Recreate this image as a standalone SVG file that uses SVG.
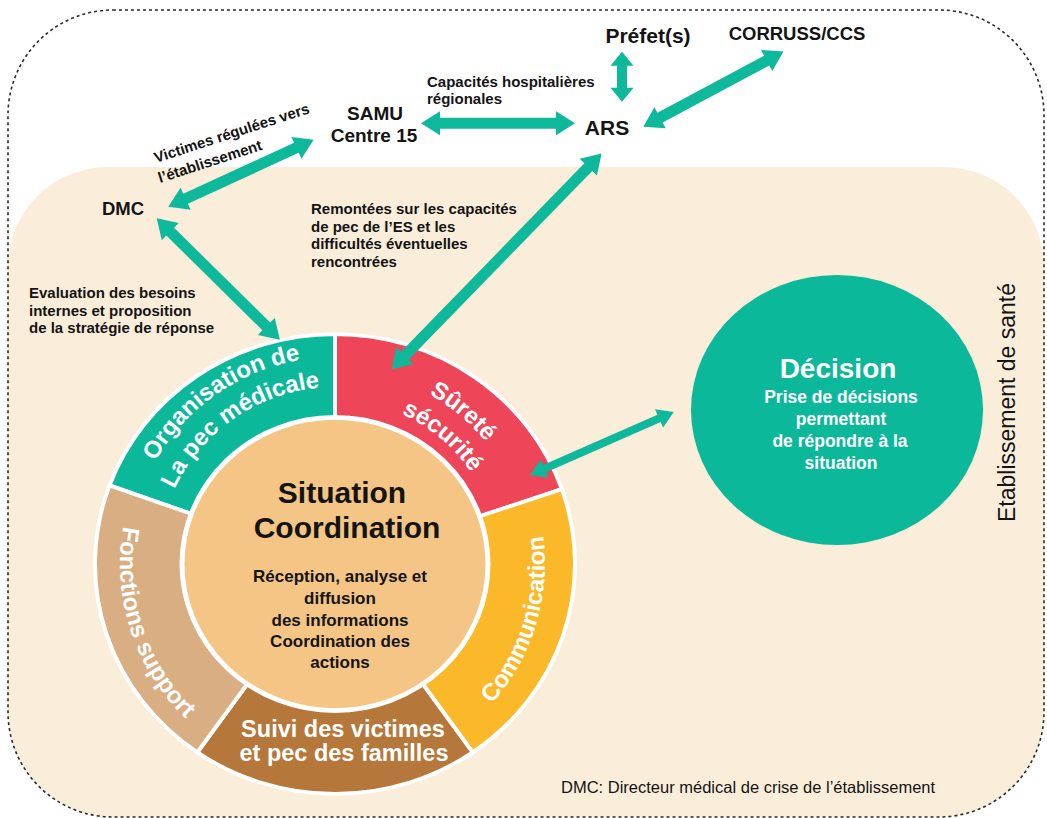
<svg xmlns="http://www.w3.org/2000/svg" width="1047" height="818" viewBox="0 0 1047 818">
<style>
.lb{font-family:"Liberation Sans",Arial,sans-serif;font-weight:bold;fill:#141414}
.rg{font-family:"Liberation Sans",Arial,sans-serif;font-weight:bold;fill:#141414}
.rt{font-family:"Liberation Sans",Arial,sans-serif;font-weight:bold;fill:#ffffff;font-size:24px}
.wt{font-family:"Liberation Sans",Arial,sans-serif;font-weight:bold;fill:#ffffff}
.arr{fill:#0DB89B}
.seg{stroke:#ffffff;stroke-width:4;stroke-linejoin:round}
</style>
<defs>
<path id="pOrg1" d="M128,564 A207,207 0 0 1 405.8,369.5"/>
<path id="pOrg2" d="M158,564 A177,177 0 0 1 395.5,397.7"/>
<path id="pSur1" d="M284.8,376.6 A194,194 0 0 1 528.3,580.9"/>
<path id="pSur2" d="M292.6,405.5 A164,164 0 0 1 498.4,578.3"/>
<path id="pCom" d="M382.2,768.6 A210,210 0 0 0 488.6,420.8"/>
<path id="pFon" d="M202.6,394.6 A215,215 0 0 0 327.5,778.9"/>
</defs>
<rect width="1047" height="818" fill="#ffffff"/>
<path d="M8,267 A100,100 0 0 1 108,167 L944,167 A100,100 0 0 1 1044,267 L1044,712 A105,105 0 0 1 939,817 L113,817 A105,105 0 0 1 8,712 Z" fill="#FAEEDB"/>
<rect x="8" y="10" width="1036" height="807" rx="105" ry="105" fill="none" stroke="#2b2b2b" stroke-width="1.6" stroke-dasharray="3,3"/>

<g id="ring">
<g transform="translate(335,564) scale(1,0.958)">
<path id="seg-org" class="seg" fill="#0CB89A" d="M0,0 L-225.5,-82.1 A240,240 0 0 1 0,-240 Z"/>
<path id="seg-sur" class="seg" fill="#EE4658" d="M0,0 L0,-240 A240,240 0 0 1 226.9,-78.1 Z"/>
<path id="seg-com" class="seg" fill="#FBB829" d="M0,0 L226.9,-78.1 A240,240 0 0 1 137.7,196.6 Z"/>
<path id="seg-sui" class="seg" fill="#B5783A" d="M0,0 L137.7,196.6 A240,240 0 0 1 -137.7,196.6 Z"/>
<path id="seg-fon" class="seg" fill="#D9AE83" d="M0,0 L-137.7,196.6 A240,240 0 0 1 -225.5,-82.1 Z"/>
<circle r="153" fill="#F4C584" stroke="#ffffff" stroke-width="5"/>
</g>
</g>

<g id="n-org"><text class="rt"><textPath href="#pOrg1" startOffset="50%" text-anchor="middle">Organisation de</textPath></text>
<text class="rt"><textPath href="#pOrg2" startOffset="50%" text-anchor="middle">La pec médicale</textPath></text></g>
<g id="n-sur"><text class="rt"><textPath href="#pSur1" startOffset="50%" text-anchor="middle">Sûreté</textPath></text>
<text class="rt"><textPath href="#pSur2" startOffset="50%" text-anchor="middle">sécurité</textPath></text></g>
<g id="n-com"><text class="rt"><textPath href="#pCom" startOffset="50%" text-anchor="middle">Communication</textPath></text></g>
<g id="n-fon"><text class="rt"><textPath href="#pFon" startOffset="50%" text-anchor="middle">Fonctions support</textPath></text></g>
<g id="n-sui"><text class="wt" font-size="23.5" text-anchor="middle"><tspan x="343" y="737">Suivi des victimes</tspan><tspan x="344" y="761">et pec des familles</tspan></text></g>

<g id="n-sit">
<text class="rg" font-size="30" text-anchor="middle"><tspan x="342" y="503">Situation</tspan><tspan x="347" y="538">Coordination</tspan></text>
<text class="rg" font-size="17" text-anchor="middle"><tspan x="340" y="582">Réception, analyse et</tspan><tspan x="340" y="603.5">diffusion</tspan><tspan x="340" y="625.5">des informations</tspan><tspan x="340" y="646.5">Coordination des</tspan><tspan x="340" y="668">actions</tspan></text>
</g>

<g id="n-dec">
<ellipse cx="837" cy="410" rx="146" ry="135" fill="#0CB89A"/>
<text class="wt" font-size="28" text-anchor="middle" x="838" y="378">Décision</text>
<text class="wt" font-size="17.5" text-anchor="middle"><tspan x="841" y="403">Prise de décisions</tspan><tspan x="841" y="424.5">permettant</tspan><tspan x="840" y="446.5">de répondre à la</tspan><tspan x="841" y="469">situation</tspan></text>
</g>

<g id="n-prefet"><text class="lb" font-size="21" text-anchor="middle" x="648" y="43">Préfet(s)</text></g>
<g id="n-corruss"><text class="lb" font-size="18.5" text-anchor="middle" x="797" y="40">CORRUSS/CCS</text></g>
<g id="n-samu"><text class="lb" font-size="19" text-anchor="middle"><tspan x="375" y="120">SAMU</tspan><tspan x="374" y="141.5">Centre 15</tspan></text></g>
<g id="n-ars"><text class="lb" font-size="21" text-anchor="middle" x="607" y="135">ARS</text></g>
<g id="n-dmc"><text class="lb" font-size="18.5" text-anchor="middle" x="123" y="215">DMC</text></g>

<g id="connectors">
<path class="arr" transform="translate(421,123.3)" d="M0,0 L19,-12 L19,-5.5 L135,-5.5 L135,-12 L154,0 L135,12 L135,5.5 L19,5.5 L19,12 Z"/>
<path class="arr" transform="translate(622,51.7) rotate(90)" d="M0,0 L14,-11.5 L14,-5 L36,-5 L36,-11.5 L50,0 L36,11.5 L36,5 L14,5 L14,11.5 Z"/>
<path class="arr" transform="translate(643.3,126.7) rotate(-28.2)" d="M0,0 L19,-12 L19,-5.5 L140,-5.5 L140,-12 L159,0 L140,12 L140,5.5 L19,5.5 L19,12 Z"/>
<path class="arr" transform="translate(168.3,206.7) rotate(-24.7)" d="M0,0 L19,-12 L19,-5.5 L141,-5.5 L141,-12 L160,0 L141,12 L141,5.5 L19,5.5 L19,12 Z"/>
<path class="arr" transform="translate(156.7,218.3) rotate(44.6)" d="M0,0 L19,-12 L19,-5.5 L154,-5.5 L154,-12 L173,0 L154,12 L154,5.5 L19,5.5 L19,12 Z"/>
<path class="arr" transform="translate(391.7,369.3) rotate(-45.8)" d="M0,0 L19,-12 L19,-5.5 L282,-5.5 L282,-12 L301,0 L282,12 L282,5.5 L19,5.5 L19,12 Z"/>
<path class="arr" transform="translate(530,475) rotate(-23.7)" d="M0,0 L16,-10 L16,-4 L141,-4 L141,-10 L157,0 L141,10 L141,4 L16,4 L16,10 Z"/>
</g>

<g id="labels">
<text class="lb" font-size="15"><tspan x="427" y="87">Capacités hospitalières</tspan><tspan x="427" y="104">régionales</tspan></text>
<text class="lb" font-size="15" transform="rotate(-18 156 163)" x="156" y="163">Victimes régulées vers</text>
<text class="lb" font-size="15" transform="rotate(-18 160 183)" x="160" y="183">l’établissement</text>
<text class="lb" font-size="15"><tspan x="311" y="214">Remontées sur les capacités</tspan><tspan x="311" y="231.5">de pec de l’ES et les</tspan><tspan x="311" y="249">difficultés éventuelles</tspan><tspan x="311" y="266.5">rencontrées</tspan></text>
<text class="lb" font-size="15"><tspan x="29" y="298">Evaluation des besoins</tspan><tspan x="29" y="315.5">internes et proposition</tspan><tspan x="29" y="333">de la stratégie de réponse</tspan></text>
<text font-family="Liberation Sans, Arial, sans-serif" font-size="23" fill="#141414" text-anchor="middle" transform="translate(1015,402.5) rotate(-90)">Etablissement de santé</text>
<text font-family="Liberation Sans, Arial, sans-serif" font-size="16.5" fill="#141414" x="561" y="793">DMC: Directeur médical de crise de l’établissement</text>
</g>
</svg>
